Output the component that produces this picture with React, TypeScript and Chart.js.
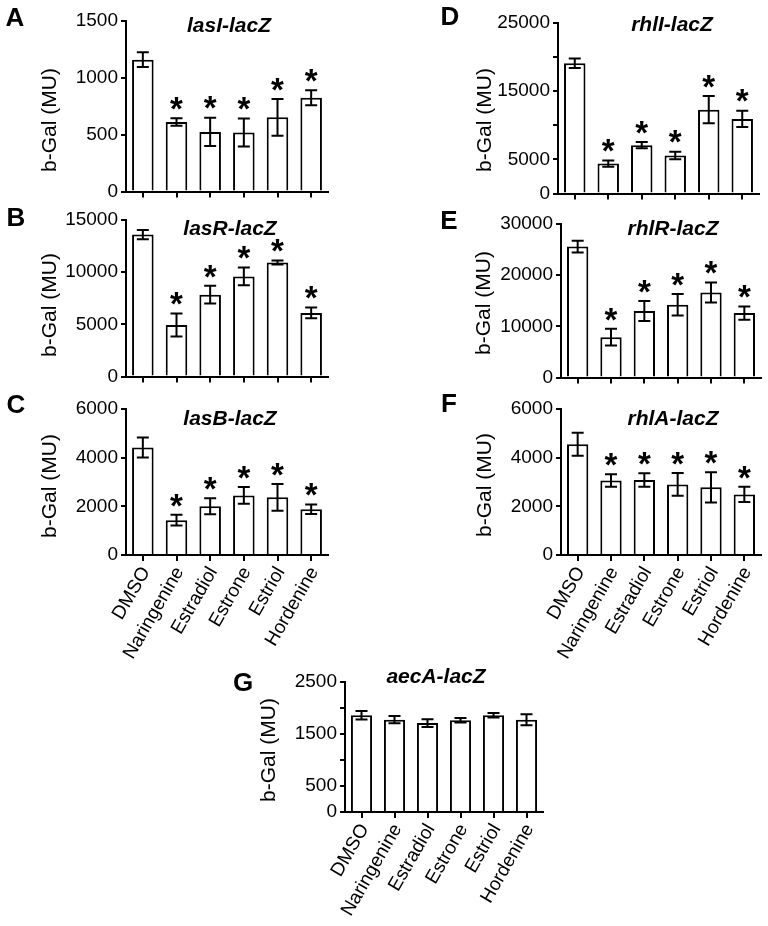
import React, { useEffect, useRef } from "react";
import { Chart, registerables } from "chart.js";
Chart.register(...registerables);

const categories = ["DMSO", "Naringenine", "Estradiol", "Estrone", "Estriol", "Hordenine"];

const lasIMean = [1160, 612, 525, 519, 653, 825];
const lasIErr = [65, 33, 125, 123, 162, 66];
const lasIStars = [false, true, true, true, true, true];

const lasRMean = [13600, 4950, 7850, 9600, 10920, 6100];
const lasRErr = [450, 1100, 850, 850, 190, 520];
const lasRStars = [false, true, true, true, true, true];

const lasBMean = [4420, 1430, 2000, 2450, 2370, 1880];
const lasBErr = [410, 220, 330, 340, 550, 200];
const lasBStars = [false, true, true, true, true, true];

const rhlIMean = [19100, 4400, 7100, 5600, 12300, 10950];
const rhlIErr = [700, 450, 450, 550, 2000, 1200];
const rhlIStars = [false, true, true, true, true, true];

const rhlRMean = [25600, 7900, 13000, 14250, 16600, 12600];
const rhlRErr = [1150, 1650, 1950, 2100, 1950, 1300];
const rhlRStars = [false, true, true, true, true, true];

const rhlAMean = [4550, 3060, 3080, 2900, 2780, 2490];
const rhlAErr = [470, 260, 275, 470, 620, 310];
const rhlAStars = [false, true, true, true, true, true];

const aecAMean = [1860, 1775, 1710, 1765, 1860, 1775];
const aecAErr = [83, 70, 75, 45, 45, 105];
const aecAStars = [false, false, false, false, false, false];

const rhlITickLabels = [0, 5000, 15000, 25000];
const aecATickLabels = [0, 500, 1500, 2500];

const yLabel = "b-Gal (MU)";
const FONT = "Arial, 'Liberation Sans', Helvetica, sans-serif";
const YW = 60;
const TOPPAD = 25;

type PanelDef = {
  letter: string;
  title: string;
  mean: number[];
  err: number[];
  stars: boolean[];
  max: number;
  step: number;
  tickLabels: number[] | null;
  showX: boolean;
  cLeft: number;
  cWidth: number;
  ax: { x: number; right: number; top: number; bottom: number };
  titlePos: [number, number];
  yLabelPos: [number, number];
  letterPos: [number, number];
};

const panels: PanelDef[] = [
  { letter: "A", title: "lasI-lacZ", mean: lasIMean, err: lasIErr, stars: lasIStars, max: 1500, step: 500, tickLabels: null, showX: false,
    cLeft: 0, cWidth: 384, ax: { x: 126, right: 328, top: 21, bottom: 192 }, titlePos: [229, 31.5], yLabelPos: [50, 120], letterPos: [15, 16.5] },
  { letter: "B", title: "lasR-lacZ", mean: lasRMean, err: lasRErr, stars: lasRStars, max: 15000, step: 5000, tickLabels: null, showX: false,
    cLeft: 0, cWidth: 384, ax: { x: 126, right: 328, top: 220, bottom: 377 }, titlePos: [230, 235], yLabelPos: [50, 305], letterPos: [16, 217] },
  { letter: "C", title: "lasB-lacZ", mean: lasBMean, err: lasBErr, stars: lasBStars, max: 6000, step: 2000, tickLabels: null, showX: true,
    cLeft: 0, cWidth: 384, ax: { x: 126, right: 328, top: 409, bottom: 555 }, titlePos: [230, 425], yLabelPos: [50, 486], letterPos: [16, 404] },
  { letter: "D", title: "rhlI-lacZ", mean: rhlIMean, err: rhlIErr, stars: rhlIStars, max: 25000, step: 5000, tickLabels: rhlITickLabels, showX: false,
    cLeft: 384, cWidth: 384, ax: { x: 558, right: 759, top: 23, bottom: 194 }, titlePos: [672, 30.7], yLabelPos: [485, 120], letterPos: [450, 16] },
  { letter: "E", title: "rhlR-lacZ", mean: rhlRMean, err: rhlRErr, stars: rhlRStars, max: 30000, step: 10000, tickLabels: null, showX: false,
    cLeft: 384, cWidth: 384, ax: { x: 561, right: 761, top: 224, bottom: 378 }, titlePos: [673, 235], yLabelPos: [484, 303], letterPos: [449, 220] },
  { letter: "F", title: "rhlA-lacZ", mean: rhlAMean, err: rhlAErr, stars: rhlAStars, max: 6000, step: 2000, tickLabels: null, showX: true,
    cLeft: 384, cWidth: 384, ax: { x: 561, right: 761, top: 409, bottom: 555 }, titlePos: [673, 425], yLabelPos: [485, 485], letterPos: [449, 403] },
  { letter: "G", title: "aecA-lacZ", mean: aecAMean, err: aecAErr, stars: aecAStars, max: 2500, step: 500, tickLabels: aecATickLabels, showX: true,
    cLeft: 200, cWidth: 400, ax: { x: 345, right: 543, top: 682, bottom: 812 }, titlePos: [436, 683.3], yLabelPos: [269, 750], letterPos: [243, 682] },
];

function Panel({ p }: { p: PanelDef }) {
  const ref = useRef<HTMLCanvasElement | null>(null);
  const XH = p.showX ? 115 : 10;
  const cTop = p.ax.top - TOPPAD;
  const cHeight = p.ax.bottom - p.ax.top + TOPPAD + XH + 4;

  useEffect(() => {
    if (!ref.current) return;
    const ox = p.cLeft;
    const oy = cTop;
    const decor = {
      id: "decor" + p.letter,
      afterDraw(chart: any) {
        const ctx = chart.ctx;
        const xs = chart.scales.x;
        const ys = chart.scales.y;
        ctx.save();
        ctx.strokeStyle = "#000";
        ctx.fillStyle = "#000";
        ctx.lineWidth = 2;
        p.mean.forEach((m, i) => {
          const x = xs.getPixelForValue(i);
          const yt = ys.getPixelForValue(m + p.err[i]);
          const yb = ys.getPixelForValue(m - p.err[i]);
          ctx.beginPath();
          ctx.moveTo(x, yt);
          ctx.lineTo(x, yb);
          ctx.moveTo(x - 6, yt);
          ctx.lineTo(x + 6, yt);
          ctx.moveTo(x - 6, yb);
          ctx.lineTo(x + 6, yb);
          ctx.stroke();
          if (p.stars[i]) {
            ctx.font = `bold 33px ${FONT}`;
            ctx.textAlign = "center";
            ctx.textBaseline = "alphabetic";
            ctx.fillText("*", x, yt - 17 + 0.57 * 33);
          }
        });
        // title
        ctx.font = `italic bold 21px ${FONT}`;
        ctx.textAlign = "center";
        ctx.textBaseline = "alphabetic";
        ctx.fillText(p.title, p.titlePos[0] - ox, p.titlePos[1] - oy);
        // letter
        ctx.font = `bold 26px ${FONT}`;
        ctx.fillText(p.letter, p.letterPos[0] - ox, p.letterPos[1] - oy + 0.358 * 26);
        // y label
        ctx.translate(p.yLabelPos[0] - ox, p.yLabelPos[1] - oy);
        ctx.rotate(-Math.PI / 2);
        ctx.font = `21px ${FONT}`;
        ctx.textBaseline = "middle";
        ctx.fillText(yLabel, 0, 0);
        ctx.restore();
      },
    };
    const chart = new Chart(ref.current, {
      type: "bar",
      data: {
        labels: categories,
        datasets: [
          {
            data: p.mean,
            backgroundColor: "#ffffff",
            borderColor: "#000000",
            borderWidth: 2,
            barPercentage: 0.64,
            categoryPercentage: 1,
            borderSkipped: "bottom",
          },
        ],
      },
      options: {
        animation: false,
        responsive: false,
        maintainAspectRatio: false,
        devicePixelRatio: 1,
        layout: {
          padding: {
            left: p.ax.x - p.cLeft - YW,
            right: p.cLeft + p.cWidth - p.ax.right,
            top: TOPPAD,
            bottom: 4,
          },
        },
        plugins: { legend: { display: false }, tooltip: { enabled: false }, title: { display: false } },
        scales: {
          x: {
            type: "category",
            offset: true,
            grid: { display: true, offset: false, drawOnChartArea: false, drawTicks: true, tickLength: 6, color: "#000", lineWidth: 2 },
            border: { display: true, color: "#000", width: 2 },
            ticks: {
              display: p.showX,
              autoSkip: false,
              minRotation: 60,
              maxRotation: 60,
              padding: 2,
              labelOffset: 3,
              color: "#000",
              font: { family: FONT, size: 19 },
            },
            afterFit: (s: any) => {
              s.height = XH;
            },
          },
          y: {
            min: 0,
            max: p.max,
            grid: { display: true, drawOnChartArea: false, drawTicks: true, tickLength: 5, color: "#000", lineWidth: 2 },
            border: { display: true, color: "#000", width: 2 },
            ticks: {
              stepSize: p.step,
              padding: 3,
              color: "#000",
              font: { family: FONT, size: 19 },
              callback: (v: any) => {
                const n = Number(v);
                if (p.tickLabels && !p.tickLabels.includes(n)) return "";
                return String(n);
              },
            },
            afterFit: (s: any) => {
              s.width = YW;
            },
          },
        },
      } as any,
      plugins: [decor],
    });
    return () => chart.destroy();
  }, []);

  return (
    <canvas
      ref={ref}
      width={p.cWidth}
      height={cHeight}
      style={{ position: "absolute", left: p.cLeft, top: cTop, width: p.cWidth, height: cHeight }}
    />
  );
}

export default function App() {
  return (
    <div style={{ position: "absolute", left: 0, top: 0, width: 768, height: 926, background: "#fff", overflow: "hidden" }}>
      {panels.map((p) => (
        <Panel key={p.letter} p={p} />
      ))}
    </div>
  );
}
